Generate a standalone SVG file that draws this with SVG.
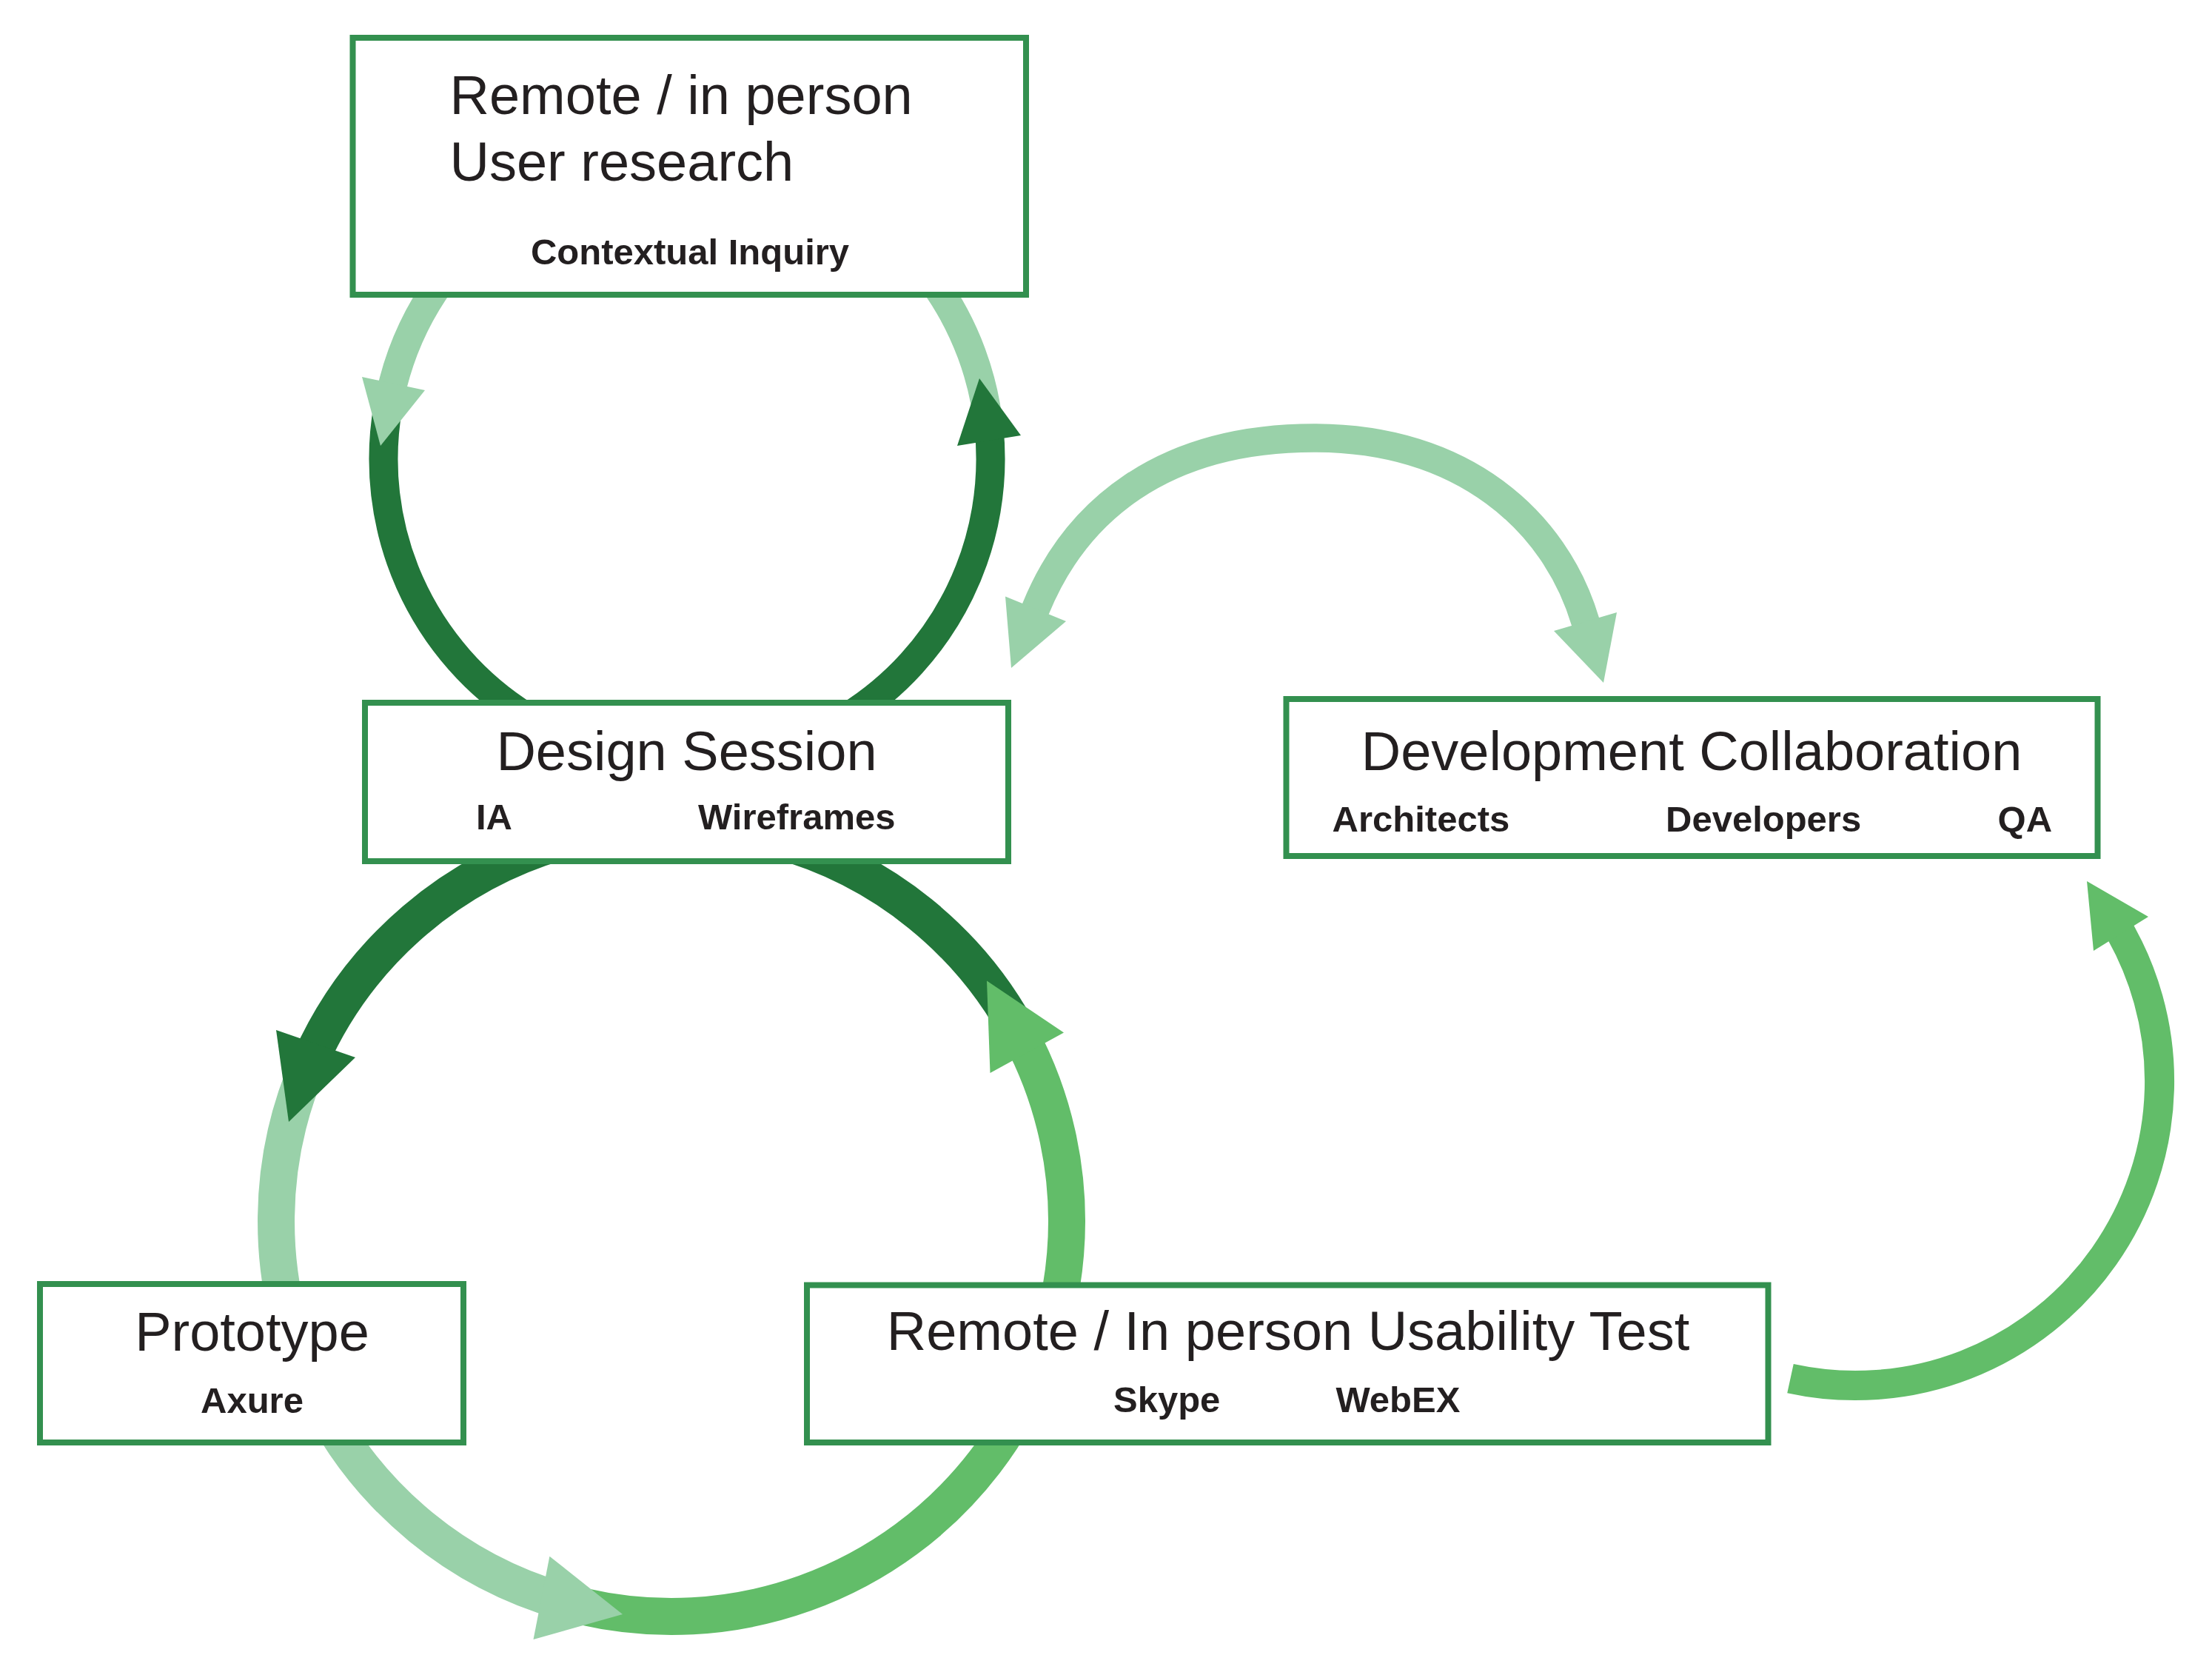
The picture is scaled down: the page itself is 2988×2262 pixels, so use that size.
<svg xmlns="http://www.w3.org/2000/svg" width="2988" height="2262" viewBox="0 0 2988 2262">
<style>
.arc{fill:none;stroke-linecap:butt}
.dk{stroke:#22763a}.lt{stroke:#99d1a9}.md{stroke:#62bd69}
.fdk{fill:#22763a}.flt{fill:#99d1a9}.fmd{fill:#62bd69}
.box{fill:#ffffff;stroke:#33904f;stroke-width:8}
.t{font-family:"Liberation Sans",Arial,sans-serif;fill:#231f20}
.h{font-size:74px}
.s{font-size:49px;font-weight:bold}
</style>
<rect width="2988" height="2262" fill="#ffffff"/>
<g id="connectors">
  <!-- top loop -->
  <path class="arc dk" stroke-width="39" d="M 524.2 548.8 A 410 410 0 0 0 710.7 967.7"/>
  <path class="arc lt" stroke-width="39" d="M 595.5 380 A 410 410 0 0 0 527 534.8"/>
  <path class="arc lt" stroke-width="39" d="M 1260.5 380 A 410 410 0 0 1 1336.4 584.3"/>
  <path class="arc dk" stroke-width="39" d="M 1145.3 967.7 A 410 410 0 0 0 1335.8 577.1"/>
  <polygon class="flt" points="489,509 574,527 514,602"/>
  <polygon class="fdk" points="1293,602 1379,588 1323,511"/>
  <!-- double arrow design <-> development -->
  <path class="arc lt" stroke-width="38.5" d="M 1393 836 L 1399 822 C 1452 692 1568 591.5 1775 591.5 C 1976.6 591.5 2101 703.5 2141.5 839.5 L 2146 854"/>
  <polygon class="flt" points="1358,805.5 1440,839 1366,902"/>
  <polygon class="flt" points="2099,852 2184,827 2166,922"/>
  <!-- bottom loop -->
  <path class="arc dk" stroke-width="50" d="M 1045.2 1133.2 A 534 534 0 0 1 1382.8 1406.6"/>
  <path class="arc md" stroke-width="50" d="M 786.9 2169.3 A 534 534 0 0 0 1378.5 1398.3"/>
  <path class="arc lt" stroke-width="50" d="M 419.2 1431.8 A 534 534 0 0 0 759.8 2162.3"/>
  <path class="arc dk" stroke-width="50" d="M 768.8 1133.2 A 534 534 0 0 0 419.2 1431.8"/>
  <polygon class="fdk" points="373,1391 480,1428 390,1515"/>
  <polygon class="flt" points="742.4,2101.7 720.5,2214 841,2180"/>
  <polygon class="fmd" points="1337.5,1449 1437,1394.6 1333,1324.5"/>
  <!-- usability -> development -->
  <path class="arc md" stroke-width="40" d="M 2418.5 1861.6 A 411 411 0 0 0 2854.6 1242.2"/>
  <polygon class="fmd" points="2828,1284 2902,1238 2819,1190"/>
</g>
<g id="node-user-research">
  <rect class="box" x="476.5" y="51" width="909.5" height="347"/>
  <text class="t h" x="607.5" y="154">Remote / in person</text>
  <text class="t h" x="607.5" y="244">User research</text>
  <text class="t s" x="932" y="357" text-anchor="middle">Contextual Inquiry</text>
</g>
<g id="node-design-session">
  <rect class="box" x="493" y="949" width="869" height="214"/>
  <text class="t h" x="927.5" y="1040" text-anchor="middle">Design Session</text>
  <text class="t s" x="643" y="1120">IA</text>
  <text class="t s" x="943" y="1120">Wireframes</text>
</g>
<g id="node-development">
  <rect class="box" x="1737.5" y="944" width="1096" height="212"/>
  <text class="t h" x="2285" y="1040" text-anchor="middle">Development Collaboration</text>
  <text class="t s" x="1799.6" y="1123">Architects</text>
  <text class="t s" x="2250" y="1123">Developers</text>
  <text class="t s" x="2698.6" y="1123">QA</text>
</g>
<g id="node-prototype">
  <rect class="box" x="54" y="1734" width="572" height="214"/>
  <text class="t h" x="340.5" y="1824" text-anchor="middle">Prototype</text>
  <text class="t s" x="340.5" y="1908" text-anchor="middle">Axure</text>
</g>
<g id="node-usability">
  <rect class="box" x="1090" y="1735.5" width="1298.5" height="212.5"/>
  <text class="t h" x="1740" y="1823" text-anchor="middle">Remote / In person Usability Test</text>
  <text class="t s" x="1504" y="1907">Skype</text>
  <text class="t s" x="1804.5" y="1907">WebEX</text>
</g>
</svg>
